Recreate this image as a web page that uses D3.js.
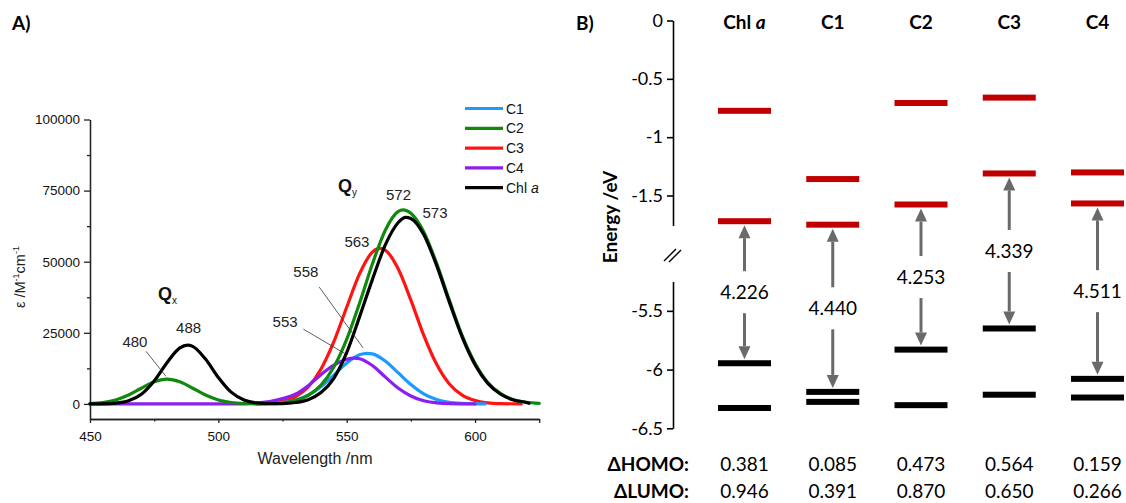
<!DOCTYPE html>
<html><head><meta charset="utf-8">
<script src="https://cdn.jsdelivr.net/npm/d3@7"></script>
<style>body{margin:0;background:#fff} svg{display:block}</style>
</head><body>
<svg id="c" width="1126" height="503"></svg>
<script>
// ---------- Panel A data (wavelength nm, epsilon M^-1 cm^-1) ----------
const wlChl  = [450,455,460,465,470,475,480,485,488,490,495,500,505,510,515,520,525,530,535,540,545,550,555,560,565,570,573,575,580,585,590,595,600,605,610,615,620,621];
const epsChl = [0,50,270,1090,3420,8090,14510,19690,20700,20240,15770,9300,4140,1410,360,80,120,500,1500,4000,9000,18000,30600,43700,55800,63700,65600,65200,59600,48800,35800,23500,13800,7200,3400,1400,500,200];
const wlC2  = [450,455,460,465,470,475,480,485,490,495,500,505,510,515,520,525,530,535,540,545,550,555,560,565,570,572,575,580,585,590,595,600,605,610,615,620,625];
const epsC2 = [150,510,1410,3130,5520,7770,8700,7770,5520,3130,1410,510,150,40,60,300,1240,3040,6650,13000,22700,35400,49200,61000,67600,68200,67000,60500,49500,36500,24000,14300,7500,3600,1500,600,200];
const wlC3  = [515,520,525,530,535,540,545,550,555,560,563,565,570,575,580,585,590,595,600,605,610,618];
const epsC3 = [0,300,900,2500,6000,12300,21900,34000,45700,53400,54700,54100,47600,36500,24200,14000,7000,3100,1200,400,120,0];
const wlC1  = [518,520,525,530,535,540,545,550,555,558,560,565,570,575,580,585,590,595,600,604];
const epsC1 = [0,150,470,1300,3060,6040,10100,14400,17300,17800,17600,15100,11000,6800,3550,1570,590,190,50,0];
const wlC4  = [450,510,515,520,525,530,535,540,545,550,553,555,560,565,570,575,580,585,590,595,600];
const epsC4 = [0,0,300,800,1900,3400,6400,10300,13600,15700,16100,15900,13500,9500,5600,2800,1100,400,110,30,0];

const seriesNames  = ["C1","C2","C3","C4","Chl a"];
const seriesColors = ["#1c9bff","#0f8a0f","#ff1414","#8a1ff0","#000000"];
const xTicksMajor = [450,500,550,600,625];
const xTicksMinor = [475,525,575];
const yTicksMajor = [0,25000,50000,75000,100000];
const yTicksMinor = [12500,37500,62500,87500];

// peak annotations [label, wavelength, epsilon]
const peakLabels = [["480",467.5,20100],["488",488.4,25000],["553",526.0,27100],["558",534.1,44700],["563",554.0,55300],["572",570.2,71700],["573",584.4,65400]];
const leaders = [[471.8,18500,479.6,9700],[533.1,26300,549.3,17700],[539.3,41100,556.4,19700]];

// ---------- Panel B data (eV) ----------
const categories = ["Chl a","C1","C2","C3","C4"];
const lumoPlus1 = [-0.774,-1.359,-0.707,-0.661,-1.302];
const lumo      = [-1.720,-1.750,-1.577,-1.311,-1.568];
const homo      = [-5.946,-6.190,-5.830,-5.650,-6.079];
const homoMinus1= [-6.327,-6.275,-6.303,-6.214,-6.238];
const gapLabels = ["4.226","4.440","4.253","4.339","4.511"];
const dHomo = ["0.381","0.085","0.473","0.564","0.159"];
const dLumo = ["0.946","0.391","0.870","0.650","0.266"];
const eTicksTop = [0,-0.5,-1,-1.5];
const eTicksBot = [-5.5,-6,-6.5];

const svg = d3.select("#c");
const fA = "'Liberation Sans', Arial, sans-serif";
const fB = "Lato, 'Open Sans', sans-serif";

// ================= Panel A =================
const x = d3.scaleLinear().domain([450,625]).range([90,539.2]);
const y = d3.scaleLinear().domain([-5300,100000]).range([419,119.5]);
const gA = svg.append("g");

gA.append("text").attr("x",12).attr("y",30).attr("font-family",fB).attr("font-weight","bold").attr("font-size",19).text("A)");

// axes
const yMinor = gA.append("g").attr("transform","translate(90,0)")
  .call(d3.axisLeft(y).tickValues(yTicksMinor).tickSize(3).tickFormat("").tickSizeOuter(0));
const yMajor = gA.append("g").attr("transform","translate(90,0)")
  .call(d3.axisLeft(y).tickValues(yTicksMajor).tickSize(6).tickPadding(4).tickSizeOuter(0).tickFormat(d3.format("d")));
const xMinor = gA.append("g").attr("transform","translate(0,419)")
  .call(d3.axisBottom(x).tickValues(xTicksMinor).tickSize(2.5).tickFormat("").tickSizeOuter(0));
const xMajor = gA.append("g").attr("transform","translate(0,419)")
  .call(d3.axisBottom(x).tickValues(xTicksMajor).tickSize(4).tickPadding(8).tickSizeOuter(0).tickFormat(d=>d===625?"":d));
[yMinor,yMajor,xMinor,xMajor].forEach(g=>{
  g.selectAll("path,line").attr("stroke","#222").attr("stroke-width",1.3);
  g.selectAll("text").attr("font-family",fA).attr("font-size",13.5).attr("fill","#111");
});

gA.append("text").attr("x",315).attr("y",464).attr("text-anchor","middle")
  .attr("font-family",fA).attr("font-size",16).attr("fill","#222").text("Wavelength /nm");
const yl = gA.append("text").attr("transform","translate(25,277) rotate(-90)").attr("text-anchor","middle")
  .attr("font-family",fA).attr("font-size",14.5).attr("fill","#222");
yl.append("tspan").text("ε /M");
yl.append("tspan").attr("font-size",9).attr("dy",-6).text("-1");
yl.append("tspan").attr("dy",6).text("cm");
yl.append("tspan").attr("font-size",9).attr("dy",-6).text("-1");

// curves
const line = d3.line().x(d=>x(d[0])).y(d=>y(d[1])).curve(d3.curveMonotoneX);
const seriesData = {
  "C1": d3.zip(wlC1,epsC1), "C2": d3.zip(wlC2,epsC2), "C3": d3.zip(wlC3,epsC3),
  "C4": d3.zip(wlC4,epsC4), "Chl a": d3.zip(wlChl,epsChl)
};
const drawOrder = ["C3","C1","C4","C2","Chl a"];
drawOrder.forEach(n=>{
  gA.append("path").attr("d",line(seriesData[n])).attr("fill","none")
    .attr("stroke",seriesColors[seriesNames.indexOf(n)]).attr("stroke-width",3.2)
    .attr("stroke-linejoin","round").attr("stroke-linecap","round");
});

// leaders and labels
leaders.forEach(l=>{
  gA.append("line").attr("x1",x(l[0])).attr("y1",y(l[1])).attr("x2",x(l[2])).attr("y2",y(l[3]))
    .attr("stroke","#333").attr("stroke-width",0.8);
});
peakLabels.forEach(p=>{
  gA.append("text").attr("x",x(p[1])).attr("y",y(p[2])).attr("text-anchor","middle")
    .attr("font-family",fA).attr("font-size",15).attr("fill","#222").text(p[0]);
});
function qlab(sub, wl, eps){
  const t = gA.append("text").attr("x",x(wl)).attr("y",y(eps)).attr("font-family",fA).attr("fill","#111");
  t.append("tspan").attr("font-weight","bold").attr("font-size",18).text("Q");
  t.append("tspan").attr("font-size",10).attr("dy",4).text(sub);
}
qlab("x",476.5,36600);
qlab("y",546.6,74500);

// legend
const lg = gA.append("g");
seriesNames.forEach((n,i)=>{
  const yy = 108.5 + i*19.8;
  lg.append("line").attr("x1",465).attr("x2",503).attr("y1",yy).attr("y2",yy)
    .attr("stroke",seriesColors[i]).attr("stroke-width",3.2);
  const t = lg.append("text").attr("x",506).attr("y",yy+5).attr("font-family",fA).attr("font-size",14).attr("fill","#111");
  if(n==="Chl a"){ t.append("tspan").text("Chl "); t.append("tspan").attr("font-style","italic").text("a"); }
  else t.text(n);
});

// ================= Panel B =================
const gB = svg.append("g");
const axX = 673;
const yTop = d3.scaleLinear().domain([0,-1.757]).range([20.5,225.5]);
const yBot = d3.scaleLinear().domain([-5.25,-6.5]).range([281.5,428.3]);
const cx = d3.scalePoint().domain(categories).range([744.5,1097.5]);

gB.append("text").attr("x",576).attr("y",30).attr("font-family",fB).attr("font-weight","bold").attr("font-size",19).text("B)");

const aTop = gB.append("g").attr("transform",`translate(${axX},0)`)
  .call(d3.axisLeft(yTop).tickValues(eTicksTop).tickSize(6).tickPadding(4).tickSizeOuter(0).tickFormat(d=>String(d)));
const aBot = gB.append("g").attr("transform",`translate(${axX},0)`)
  .call(d3.axisLeft(yBot).tickValues(eTicksBot).tickSize(6).tickPadding(4).tickSizeOuter(0).tickFormat(d=>String(d)));
[aTop,aBot].forEach(g=>{
  g.selectAll("path,line").attr("stroke","#000").attr("stroke-width",1.6);
  g.selectAll("text").attr("font-family",fB).attr("font-size",18).attr("fill","#000");
});
// break marks
[0,5].forEach(o=>{
  gB.append("line").attr("x1",axX-9+o).attr("y1",261+o*0.2).attr("x2",axX+3+o).attr("y2",249+o*0.2)
    .attr("stroke","#000").attr("stroke-width",1.4);
});
gB.append("text").attr("transform","translate(617,217) rotate(-90)").attr("text-anchor","middle")
  .attr("font-family",fB).attr("font-weight","bold").attr("font-size",19).text("Energy /eV");

// headers
categories.forEach(c=>{
  const t = gB.append("text").attr("x",cx(c)).attr("y",29).attr("text-anchor","middle")
    .attr("font-family",fB).attr("font-weight","bold").attr("font-size",19);
  if(c==="Chl a"){ t.append("tspan").text("Chl "); t.append("tspan").attr("font-style","italic").text("a"); }
  else t.text(c);
});

// levels
const bw = 53;
function bars(vals, scale, color){
  gB.selectAll(null).data(vals).enter().append("rect")
    .attr("x",(d,i)=>cx(categories[i])-bw/2).attr("y",d=>scale(d)-3)
    .attr("width",bw).attr("height",6).attr("fill",color);
}
bars(lumoPlus1,yTop,"#c00000");
bars(lumo,yTop,"#c00000");
bars(homo,yBot,"#000");
bars(homoMinus1,yBot,"#000");

// arrows and gap labels
const arrowCol = "#6a6a6a";
categories.forEach((c,i)=>{
  const X = cx(c);
  const yl_ = yTop(lumo[i]), yh = yBot(homo[i]);
  const mid = (yl_+yh)/2;
  const upTip = yl_+4, upHead = upTip+13;
  gB.append("line").attr("x1",X).attr("x2",X).attr("y1",mid-21).attr("y2",upHead).attr("stroke",arrowCol).attr("stroke-width",3);
  gB.append("path").attr("d",`M${X},${upTip}L${X-6},${upHead}L${X+6},${upHead}Z`).attr("fill",arrowCol);
  const dnTip = yh-4, dnHead = dnTip-13;
  gB.append("line").attr("x1",X).attr("x2",X).attr("y1",mid+21).attr("y2",dnHead).attr("stroke",arrowCol).attr("stroke-width",3);
  gB.append("path").attr("d",`M${X},${dnTip}L${X-6},${dnHead}L${X+6},${dnHead}Z`).attr("fill",arrowCol);
  gB.append("text").attr("x",X).attr("y",mid).attr("dy","0.35em").attr("text-anchor","middle")
    .attr("font-family",fB).attr("font-size",19).text(gapLabels[i]);
});

// bottom rows
[["ΔHOMO:",dHomo,471],["ΔLUMO:",dLumo,498]].forEach(r=>{
  gB.append("text").attr("x",689).attr("y",r[2]).attr("text-anchor","end")
    .attr("font-family",fB).attr("font-weight","bold").attr("font-size",19).text(r[0]);
  r[1].forEach((v,i)=>{
    gB.append("text").attr("x",cx(categories[i])).attr("y",r[2]).attr("text-anchor","middle")
      .attr("font-family",fB).attr("font-size",19).text(v);
  });
});
</script>
</body></html>
